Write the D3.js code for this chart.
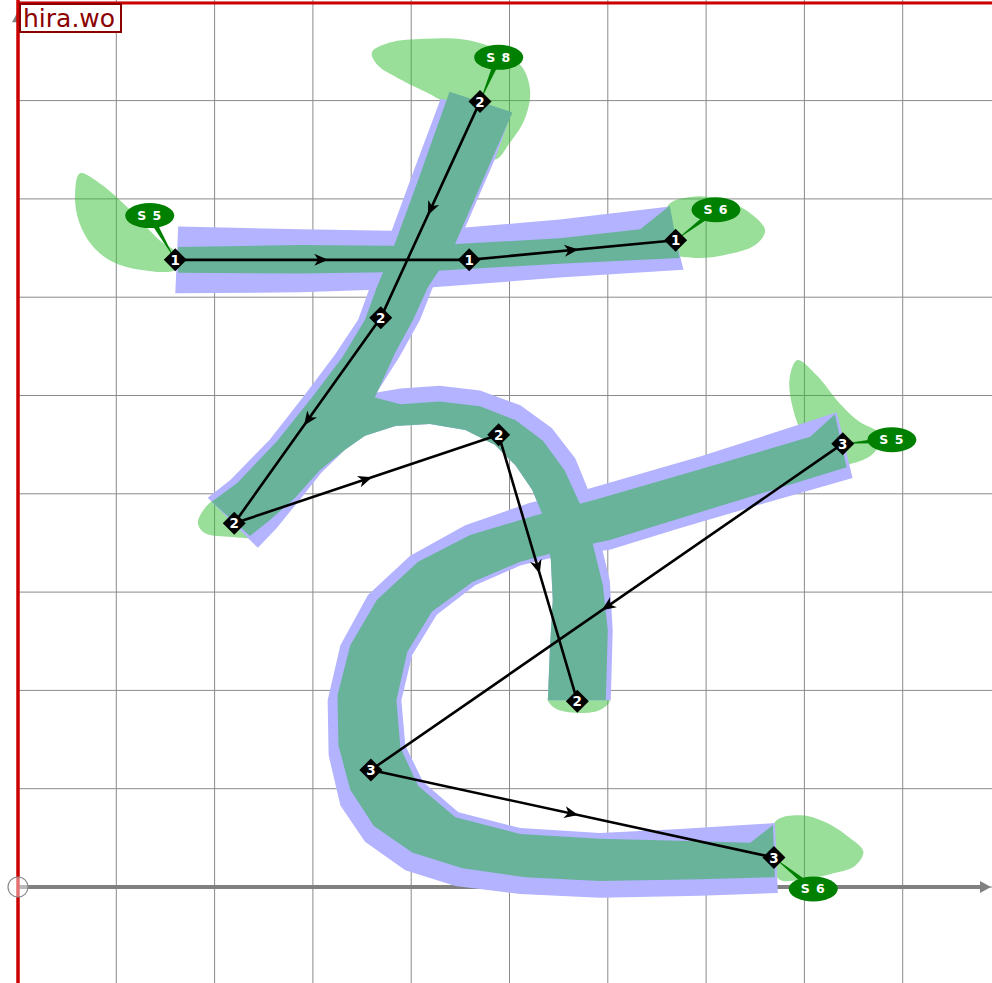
<!DOCTYPE html>
<html><head><meta charset="utf-8">
<script src="https://cdn.jsdelivr.net/npm/d3@7"></script>
<style>html,body{margin:0;padding:0;background:#fff;overflow:hidden}</style>
</head><body>
<svg id="chart" width="992" height="983"></svg>
<script>
// ---------- data (grid units) ----------
const titleText = "hira.wo";
const gridXTicks = [0,1,2,3,4,5,6,7,8,9,10];
const gridYTicks = [-1,0,1,2,3,4,5,6,7,8,9];

// stroke order paths (marker points)
const stroke1 = [[1.60,6.38],[4.59,6.38],[6.69,6.58]];
const stroke2 = [[4.70,7.99],[3.69,5.79],[2.20,3.70],[4.89,4.60],[5.69,1.89]];
const stroke3 = [[8.39,4.51],[3.59,1.19],[7.69,0.30]];
const strokePaths = [stroke1, stroke2, stroke3];
const strokeNumbers = ["1","2","3"];

// speed labels: text, stroke index, point index, label centre
const labelTexts = ["S 5","S 8","S 6","S 5","S 6"];
const labelAnchors = [[0,0],[1,0],[0,2],[2,0],[2,2]];
const labelCentres = [[1.34,6.83],[4.89,8.44],[7.10,6.89],[8.89,4.55],[8.09,-0.02]];

// light green end blobs
const blobA = [[0.63,7.26],[0.83,7.16],[1.14,6.89],[1.44,6.58],[1.65,6.42],[1.61,6.28],[1.24,6.28],[0.96,6.36],[0.75,6.53],[0.62,6.77],[0.58,7.02]];
const blobB = [[3.60,8.49],[3.78,8.59],[4.14,8.63],[4.55,8.62],[4.90,8.51],[5.13,8.34],[5.21,8.09],[5.15,7.80],[5.01,7.58],[4.85,7.40],[4.60,7.75],[4.29,8.01],[3.94,8.19],[3.66,8.36]];
const blobC = [[6.61,6.93],[6.84,7.02],[7.14,7.00],[7.43,6.87],[7.60,6.68],[7.50,6.53],[7.19,6.43],[6.89,6.40],[6.65,6.46]];
const blobD = [[7.93,5.36],[8.13,5.20],[8.35,4.93],[8.55,4.74],[8.79,4.59],[8.69,4.40],[8.41,4.29],[8.16,4.28],[8.00,4.55],[7.88,4.88],[7.85,5.18]];
const blobE = [[2.00,3.94],[1.83,3.71],[1.90,3.60],[2.18,3.56],[2.48,3.56],[2.54,3.63],[2.26,3.89]];
const blobF = [[5.39,1.92],[5.46,1.82],[5.70,1.77],[5.92,1.80],[6.02,1.90],[5.72,2.00]];
const blobG = [[7.70,0.66],[7.96,0.73],[8.21,0.66],[8.46,0.50],[8.60,0.36],[8.51,0.21],[8.26,0.13],[7.96,0.07],[7.73,0.09]];
const blobs = [blobA, blobB, blobC, blobD, blobE, blobF, blobG];

// blue glyph outlines
const blueBar = [[1.63,6.72],[2.87,6.69],[4.09,6.67],[5.51,6.79],[6.61,6.92],[6.77,6.28],[5.51,6.20],[4.09,6.09],[2.87,6.05],[1.60,6.04]];
const blueStroke2 = [[4.30,8.02],[5.01,7.85],[4.85,7.40],[4.65,6.94],[4.45,6.48],[4.22,6.10],[4.09,5.77],[3.89,5.41],[3.65,5.03],
  [3.89,5.07],[4.29,5.10],[4.70,5.05],[5.11,4.90],[5.43,4.67],[5.67,4.36],[5.82,3.99],[5.92,3.53],[6.02,3.12],[6.05,2.61],[6.03,1.90],
  [5.39,1.90],[5.41,2.41],[5.44,2.92],[5.42,3.33],[5.36,3.73],[5.23,4.04],[5.06,4.29],[4.85,4.50],[4.55,4.65],[4.19,4.71],[3.84,4.69],
  [3.53,4.59],[3.33,4.45],[3.09,4.22],[2.85,3.92],[2.63,3.65],[2.44,3.45],[1.93,3.96],[2.16,4.14],[2.56,4.55],[2.92,5.01],[3.22,5.41],
  [3.46,5.77],[3.58,6.10],[3.73,6.48],[3.99,7.19]];
const blueStroke3 = [[8.33,4.83],[8.49,4.16],[7.55,3.89],[6.73,3.65],[6.02,3.43],[5.51,3.37],[5.11,3.27],[4.65,3.07],[4.26,2.77],[4.01,2.36],
  [3.90,1.90],[3.94,1.44],[4.12,1.07],[4.48,0.76],[5.11,0.60],[5.92,0.55],[6.73,0.59],[7.70,0.65],[7.73,-0.06],[6.94,-0.09],[5.92,-0.11],
  [5.11,-0.07],[4.45,0.01],[3.94,0.17],[3.53,0.46],[3.28,0.83],[3.16,1.34],[3.15,1.90],[3.28,2.46],[3.56,2.97],[3.99,3.37],[4.55,3.68],
  [5.21,3.91],[5.77,4.04],[6.94,4.38],[8.06,4.74]];
const blueShapes = [blueBar, blueStroke2, blueStroke3];

// teal glyph outlines
const tealBar = [[1.63,6.51],[2.87,6.53],[4.09,6.52],[5.51,6.60],[6.33,6.69],[6.63,6.93],[6.73,6.40],[5.51,6.34],[4.09,6.26],[2.87,6.24],[1.63,6.25]];
const tealStroke2 = [[4.39,8.09],[5.03,7.88],[4.82,7.40],[4.62,6.94],[4.42,6.48],[4.17,6.10],[4.02,5.77],[3.84,5.44],[3.63,4.98],
  [3.89,4.91],[4.29,4.94],[4.70,4.89],[5.06,4.75],[5.34,4.54],[5.56,4.24],[5.72,3.89],[5.85,3.48],[5.95,3.07],[6.00,2.61],[5.98,1.90],
  [5.39,1.90],[5.41,2.41],[5.44,2.92],[5.42,3.33],[5.36,3.73],[5.23,4.04],[5.06,4.29],[4.85,4.50],[4.55,4.65],[4.19,4.71],[3.84,4.69],
  [3.53,4.59],[3.33,4.45],[3.07,4.24],[2.82,3.96],[2.56,3.73],[2.36,3.57],[1.97,3.92],[2.23,4.11],[2.63,4.53],[2.99,4.98],[3.30,5.39],
  [3.53,5.77],[3.65,6.10],[3.81,6.48],[4.07,7.19]];
const tealStroke3 = [[8.31,4.81],[8.43,4.27],[7.55,4.00],[6.73,3.75],[6.02,3.53],[5.56,3.43],[5.11,3.31],[4.62,3.10],[4.21,2.80],[3.96,2.39],
  [3.85,1.90],[3.89,1.42],[4.07,1.03],[4.45,0.71],[5.11,0.54],[5.92,0.49],[6.73,0.47],[7.45,0.45],[7.68,0.63],[7.70,0.10],[6.94,0.08],
  [5.92,0.06],[5.16,0.10],[4.52,0.19],[4.01,0.35],[3.62,0.62],[3.38,0.99],[3.26,1.44],[3.25,1.95],[3.38,2.46],[3.65,2.92],[4.07,3.31],
  [4.60,3.58],[5.26,3.78],[5.87,3.94],[6.94,4.25],[8.06,4.58]];
const tealShapes = [tealBar, tealStroke2, tealStroke3];

// ---------- drawing ----------
const W = 992, H = 983;
const svg = d3.select("#chart");
const x = d3.scaleLinear().domain([0,10]).range([18, 1001]);
const y = d3.scaleLinear().domain([0,9]).range([887, 2.3]);

// grid
const grid = svg.append("g");
grid.selectAll("line.v").data(gridXTicks).join("line")
  .attr("x1", d=>x(d)).attr("x2", d=>x(d)).attr("y1", 0).attr("y2", H)
  .attr("stroke", "#8a8a8a").attr("stroke-width", 1);
grid.selectAll("line.h").data(gridYTicks).join("line")
  .attr("x1", x(0)).attr("x2", W).attr("y1", d=>y(d)).attr("y2", d=>y(d))
  .attr("stroke", "#8a8a8a").attr("stroke-width", 1);

// axes (gray)
const ax = svg.append("g");
ax.append("line").attr("x1", x(0)).attr("x2", W-8).attr("y1", y(0)).attr("y2", y(0))
  .attr("stroke", "#808080").attr("stroke-width", 4);
ax.append("path").attr("d", `M${W-1},${y(0)}L${W-12},${y(0)-6}L${W-12},${y(0)+6}Z`).attr("fill", "#808080");
ax.append("path").attr("d", `M${x(0)},${y(9)+9}L${x(0)-6},${y(9)+20}L${x(0)+6},${y(9)+20}Z`).attr("fill", "#808080");

// blobs
const closedCurve = d3.line().x(d=>x(d[0])).y(d=>y(d[1])).curve(d3.curveCatmullRomClosed.alpha(0.5));
const closedPoly = d3.line().x(d=>x(d[0])).y(d=>y(d[1])).curve(d3.curveLinearClosed);
svg.append("g").selectAll("path").data(blobs).join("path")
  .attr("d", closedCurve).attr("fill", "#33c033").attr("fill-opacity", 0.5);

// glyph outlines
svg.append("g").selectAll("path").data(blueShapes).join("path")
  .attr("d", closedPoly).attr("fill", "#b3b3ff");
svg.append("g").selectAll("path").data(tealShapes).join("path")
  .attr("d", closedPoly).attr("fill", "#69b39b");

// red frame lines
svg.append("line").attr("x1", x(0)).attr("x2", x(0)).attr("y1", 0).attr("y2", H)
  .attr("stroke", "#cc0000").attr("stroke-width", 3.5);
svg.append("line").attr("x1", x(0)).attr("x2", W).attr("y1", y(9)+0.8).attr("y2", y(9)+0.8)
  .attr("stroke", "#cc0000").attr("stroke-width", 3);

// origin circle
svg.append("circle").attr("cx", x(0)).attr("cy", y(0)).attr("r", 10)
  .attr("fill", "#ffffff").attr("fill-opacity", 0.45).attr("stroke", "#8a8a8a").attr("stroke-width", 1.2);

// stroke paths
const pathLine = d3.line().x(d=>x(d[0])).y(d=>y(d[1]));
const pg = svg.append("g");
pg.selectAll("path.s").data(strokePaths).join("path")
  .attr("d", pathLine).attr("fill", "none").attr("stroke", "#000").attr("stroke-width", 2.6)
  .attr("stroke-linejoin", "round");
// arrowheads at segment midpoints
const segs = [];
strokePaths.forEach(p => { for (let i=0;i<p.length-1;i++) segs.push([p[i], p[i+1]]); });
pg.selectAll("path.a").data(segs).join("path")
  .attr("d", "M6,0L-8,-6L-4,0L-8,6Z").attr("fill", "#000")
  .attr("transform", d => {
    const x1=x(d[0][0]), y1=y(d[0][1]), x2=x(d[1][0]), y2=y(d[1][1]);
    const a = Math.atan2(y2-y1, x2-x1)*180/Math.PI;
    return `translate(${(x1+x2)/2},${(y1+y2)/2}) rotate(${a})`;
  });

// labels (pointer + ellipse)
const lg = svg.append("g");
labelTexts.forEach((t, i) => {
  const [si, pi] = labelAnchors[i];
  const m = strokePaths[si][pi];
  const mx = x(m[0]), my = y(m[1]);
  const cx = x(labelCentres[i][0]), cy = y(labelCentres[i][1]);
  const dx = cx-mx, dy = cy-my, len = Math.hypot(dx,dy);
  const nx = -dy/len*3.2, ny = dx/len*3.2;
  lg.append("path").attr("d", `M${mx},${my}L${cx+nx},${cy+ny}L${cx-nx},${cy-ny}Z`).attr("fill", "#008000");
  lg.append("ellipse").attr("cx", cx).attr("cy", cy).attr("rx", 24.5).attr("ry", 12.5).attr("fill", "#008000");
  lg.append("text").attr("x", cx).attr("y", cy).attr("dy", "0.36em").attr("text-anchor", "middle")
    .attr("fill", "#fff").attr("font-family", "DejaVu Sans").attr("font-weight", "bold")
    .attr("font-size", 12.5).attr("letter-spacing", 1).text(t);
});

// markers
const mg = svg.append("g");
strokePaths.forEach((p, si) => {
  p.forEach(pt => {
    const px = x(pt[0]), py = y(pt[1]);
    mg.append("path").attr("d", `M${px},${py-11.5}L${px+11.5},${py}L${px},${py+11.5}L${px-11.5},${py}Z`).attr("fill", "#000");
    mg.append("text").attr("x", px).attr("y", py).attr("dy", "0.37em").attr("text-anchor", "middle")
      .attr("fill", "#fff").attr("font-family", "DejaVu Sans").attr("font-weight", "bold")
      .attr("font-size", 13.5).text(strokeNumbers[si]);
  });
});

// title box
const tg = svg.append("g");
tg.append("rect").attr("x", 20).attr("y", 4).attr("width", 101).attr("height", 28)
  .attr("fill", "#fff").attr("stroke", "#8b0000").attr("stroke-width", 2);
tg.append("text").attr("x", 23).attr("y", 27).attr("fill", "#8b0000")
  .attr("font-family", "DejaVu Sans").attr("font-size", 25).text(titleText);
</script>
</body></html>
